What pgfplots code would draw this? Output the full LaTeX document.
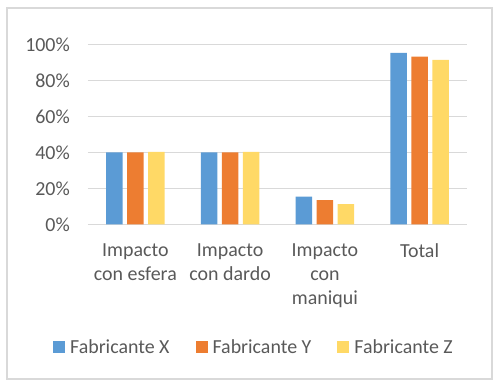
\documentclass[border=0pt]{standalone}
\usepackage{pgfplots}
\pgfplotsset{compat=1.18}
\usepackage{fontspec}
\setmainfont{Carlito}
\definecolor{cx}{HTML}{5B9BD5}
\definecolor{cy}{HTML}{ED7D31}
\definecolor{cz}{HTML}{FFD966}
\definecolor{txt}{HTML}{595959}
\definecolor{gridc}{HTML}{D9D9D9}
\begin{document}
\begin{tikzpicture}
\begin{axis}[
  at={(0,0)}, anchor=south west,
  scale only axis, width=379bp, height=179.6bp,
  ybar=4.5bp, bar width=16.5bp,
  xmin=-0.5, xmax=3.5, ymin=0, ymax=100,
  xtick={0,1,2,3},
  xticklabels={Impacto\\con esfera, Impacto\\con dardo, Impacto\\con\\maniqui, Total},
  ytick={0,20,40,60,80,100},
  yticklabels={0\%,20\%,40\%,60\%,80\%,100\%},
  major tick length=0pt,
  axis line style={draw=none},
  ymajorgrids, grid style={gridc, line width=1.6bp},
  tick label style={font=\fontsize{20}{24.4}\selectfont, text=txt},
  yticklabel style={anchor=east, inner sep=0pt, xshift=-18bp},
  xticklabel style={anchor=north, align=center, inner sep=0pt, yshift=-19bp},
  legend style={at={(0.438,-0.683)}, anchor=center, draw=none, fill=none,
    legend columns=3, font=\fontsize{20}{24}\selectfont, text=txt,
    /tikz/every odd column/.append style={column sep=3bp},
    /tikz/every even column/.append style={column sep=24bp}},
  legend image code/.code={\fill[#1] (0bp,-6bp) rectangle (12bp,6bp);},
  clip=false,
]
\addplot[fill=cx, draw=none] coordinates {(0,40) (1,40) (2,15.4) (3,95.5)};
\addplot[fill=cy, draw=none] coordinates {(0,40) (1,40) (2,13.4) (3,93.3)};
\addplot[fill=cz, draw=none] coordinates {(0,40.3) (1,40.3) (2,11.3) (3,91.5)};
\legend{Fabricante X, Fabricante Y, Fabricante Z}
\end{axis}
\draw[gridc, line width=1.4bp] (-81bp,-154.7bp) rectangle (404bp,216.3bp);
\pgfresetboundingbox
\path[use as bounding box] (-88bp,-161.7bp) rectangle (411bp,224.3bp);
\end{tikzpicture}
\end{document}
